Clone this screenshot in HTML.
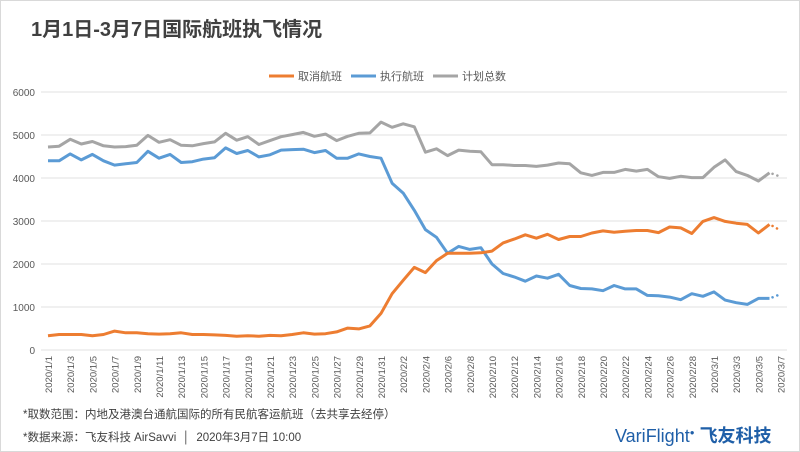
<!DOCTYPE html>
<html><head><meta charset="utf-8"><style>
body{margin:0;background:#fff;}
#w{position:relative;width:798px;height:450px;border:1px solid #d9d9d9;background:#fff;overflow:hidden;font-family:"Liberation Sans","Noto Sans CJK SC",sans-serif;}
.t{position:absolute;left:30px;top:12px;font-size:20px;font-weight:bold;color:#404040;}
.n{position:absolute;left:22px;font-size:11.5px;color:#404040;}
</style></head><body><div id="w">
<div class="t">1月1日-3月7日国际航班执飞情况</div>
<svg id="s" width="798" height="450" style="position:absolute;left:0;top:0"></svg>
<div class="n" style="top:405px">*取数范围：内地及港澳台通航国际的所有民航客运航班（去共享去经停）</div>
<div class="n" style="top:428px">*数据来源：飞友科技 AirSavvi &nbsp;│ &nbsp;2020年3月7日 10:00</div>
<div style="position:absolute;left:614px;top:421px;font-size:18px;color:#1f5fa8;font-family:'Liberation Sans',sans-serif;">Vari<span style="font-weight:normal">Flight</span><sup style="font-size:8px">●</sup> <b style="font-family:'Noto Sans CJK SC',sans-serif">飞友科技</b></div>
</div>
<script>
const G=[4720,4740,4900,4790,4850,4750,4720,4730,4760,4990,4830,4890,4760,4750,4800,4840,5040,4880,4960,4780,4870,4960,5010,5060,4970,5020,4870,4970,5040,5050,5300,5180,5260,5190,4600,4680,4520,4650,4620,4610,4310,4310,4290,4290,4270,4300,4350,4330,4120,4060,4130,4130,4200,4160,4200,4030,3990,4040,4010,4010,4250,4420,4150,4060,3990,3930,4120,4030];
const B=[4400,4400,4560,4420,4550,4400,4300,4330,4360,4620,4460,4550,4360,4380,4440,4470,4700,4570,4640,4490,4540,4650,4660,4670,4590,4640,4460,4460,4560,4500,4460,3880,3650,3250,2800,2620,2250,2410,2340,2380,2000,1780,1700,1600,1720,1670,1760,1500,1430,1420,1380,1500,1420,1420,1270,1260,1230,1170,1310,1250,1350,1160,1100,1060,1200,1200,1300];
const O=[330,360,360,360,330,360,440,400,400,380,370,380,400,360,360,350,340,320,330,320,340,330,360,400,370,380,420,510,490,560,850,1310,1620,1920,1800,2080,2250,2250,2250,2260,2300,2490,2580,2680,2600,2690,2570,2640,2640,2720,2770,2740,2760,2780,2780,2730,2860,2840,2710,2990,3080,2990,2950,2920,2720,2920,2780];
G.splice(64,1);
const X=i=>47+i*11.1, Y=v=>349-v*0.043;
let s='';
for(let k=0;k<=6;k++){const y=Y(k*1000);s+=`<line x1="40" x2="786" y1="${y}" y2="${y}" stroke="#e0e0e0"/>`;
s+=`<text x="34" y="${y+4}" font-size="10" fill="#595959" text-anchor="end">${k*1000}</text>`;}
const lab=[];for(let d=1;d<=31;d+=2)lab.push('2020/1/'+d);for(let d=2;d<=29;d+=2)lab.push('2020/2/'+d);for(let d=1;d<=7;d+=2)lab.push('2020/3/'+d);
lab.forEach((l,j)=>{const x=X(j*2)+4;s+=`<text transform="translate(${x},355) rotate(-90)" font-size="9.5" fill="#595959" text-anchor="end">${l}</text>`;});
function line(a,c){let p=a.slice(0,66).map((v,i)=>(i?'L':'M')+X(i).toFixed(1)+','+Y(v).toFixed(1)).join('');
s+=`<path d="${p}" fill="none" stroke="${c}" stroke-width="3" stroke-linejoin="round"/>`;
s+=`<line x1="${X(65)+3}" y1="${Y(a[65]*0.75+a[66]*0.25)}" x2="${X(66)}" y2="${Y(a[66])}" stroke="${c}" stroke-width="2.5" stroke-linecap="round" stroke-dasharray="0.1 5"/>`;}
line(G,'#a5a5a5');line(B,'#5b9bd5');line(O,'#ed7d31');
[['取消航班','#ed7d31',268],['执行航班','#5b9bd5',350],['计划总数','#a5a5a5',432]].forEach(([t,c,x])=>{
s+=`<line x1="${x}" x2="${x+25}" y1="75" y2="75" stroke="${c}" stroke-width="3"/><text x="${x+29}" y="79" font-size="11" fill="#595959">${t}</text>`;});
document.getElementById('s').innerHTML=s;
</script>
</body></html>
